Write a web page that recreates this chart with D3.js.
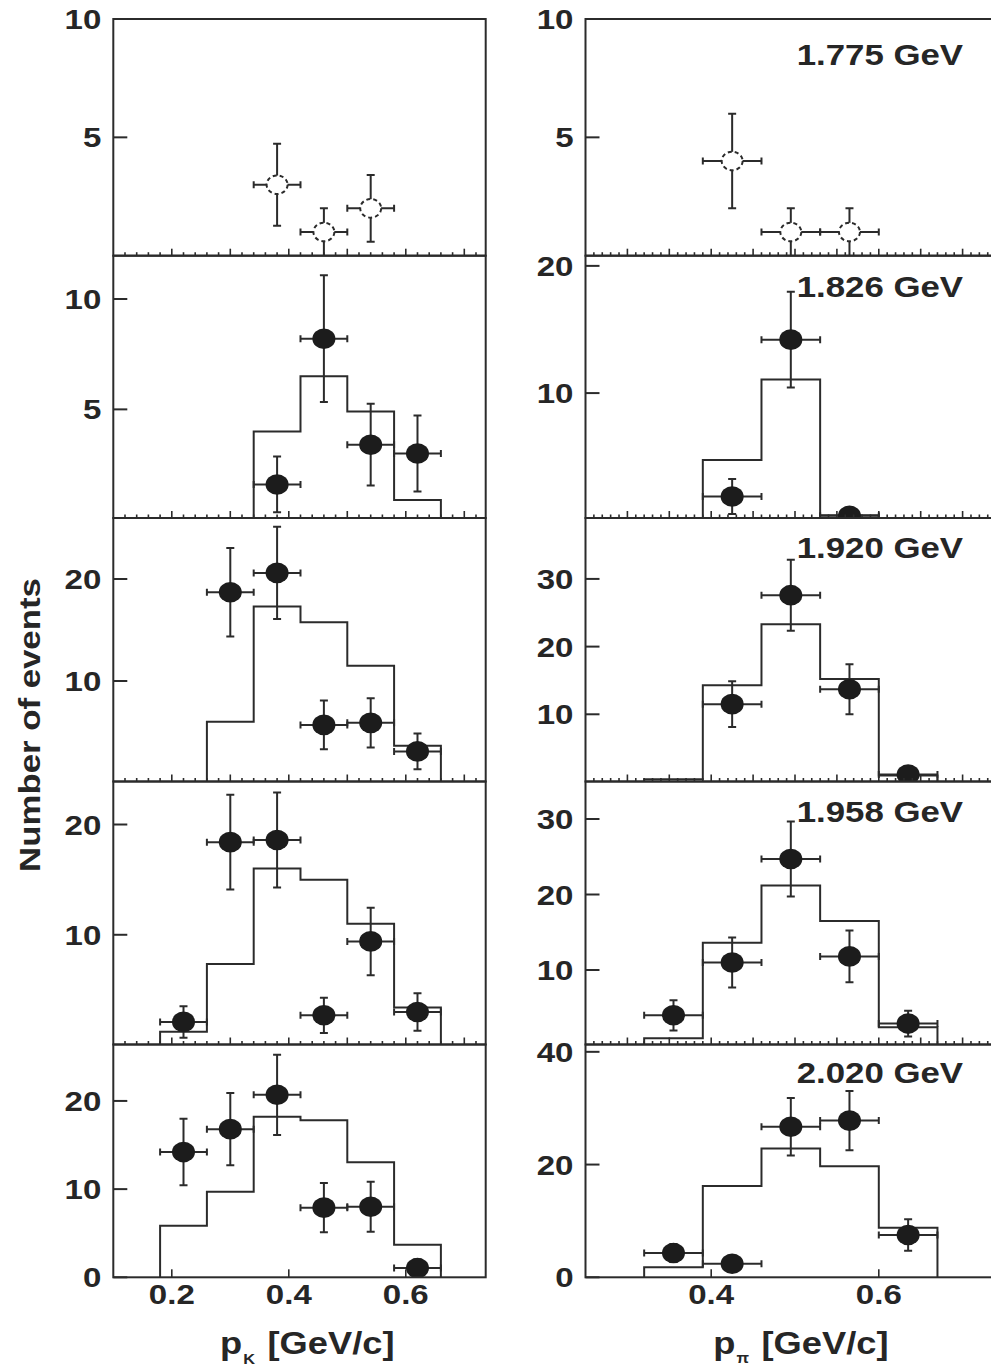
<!DOCTYPE html>
<html>
<head>
<meta charset="utf-8">
<script src="https://cdn.jsdelivr.net/npm/d3@7"></script>
<style>
  body { margin: 0; background: #fff; }
  svg { display: block; }
  text { font-family: "Liberation Sans", Arial, sans-serif; font-weight: bold; fill: #262626; }
</style>
</head>
<body>
<svg id="chart" width="991" height="1367"></svg>
<script>
// ---------------- data ----------------
const energies = ["1.775 GeV", "1.826 GeV", "1.920 GeV", "1.958 GeV", "2.020 GeV"];

// kaon momentum bins [GeV/c]
const kaonBinEdges = [0.18, 0.26, 0.34, 0.42, 0.50, 0.58, 0.66];
// pion momentum bins [GeV/c]
const pionBinEdges = [0.32, 0.39, 0.46, 0.53, 0.60, 0.67];

// measured yields per energy (null = no entry)
const kaonCounts = [
  [null, null, 3.0, 1.0, 2.0, null],
  [null, null, 1.6, 8.2, 3.4, 3.0],
  [null, 18.7, 20.6, 5.7, 5.9, 3.1],
  [2.1, 18.4, 18.6, 2.7, 9.4, 3.0],
  [14.2, 16.8, 20.7, 7.9, 8.0, 1.05]
];
const kaonErrors = [
  [null, null, 1.73, 1.0, 1.41, null],
  [null, null, 1.26, 2.87, 1.85, 1.72],
  [null, 4.33, 4.53, 2.39, 2.42, 1.75],
  [1.43, 4.29, 4.31, 1.6, 3.06, 1.7],
  [3.77, 4.09, 4.55, 2.8, 2.83, 1.0]
];
// simulated spectra (null = not shown)
const kaonMC = [
  null,
  [0, 0, 4.0, 6.5, 4.9, 0.9],
  [0, 6.0, 17.3, 15.75, 11.5, 3.65],
  [1.2, 7.35, 16.0, 15.0, 11.0, 3.4],
  [5.85, 9.7, 18.2, 17.8, 13.05, 3.7]
];

const pionCounts = [
  [null, 4.0, 1.0, 1.0, null],
  [null, 1.87, 14.2, 0.35, null],
  [null, 11.5, 27.6, 13.7, 1.1],
  [4.0, 11.0, 24.7, 11.8, 2.9],
  [4.3, 2.4, 26.7, 27.8, 7.5]
];
const pionErrors = [
  [null, 2.0, 1.0, 1.0, null],
  [null, 1.37, 3.76, 0.6, null],
  [null, 3.39, 5.25, 3.7, 1.05],
  [2.0, 3.31, 4.97, 3.43, 1.7],
  [1.6, 1.4, 5.1, 5.27, 2.8]
];
const pionMC = [
  null,
  [0, 4.73, 11.06, 0.4, 0],
  [0.4, 14.3, 23.3, 15.2, 0.95],
  [0.95, 13.6, 21.2, 16.5, 2.4],
  [1.8, 16.2, 22.85, 19.7, 8.8]
];

// axis tick labels
const kaonYTicks = [[5, 10], [5, 10], [10, 20], [10, 20], [0, 10, 20]];
const pionYTicks = [[5, 10], [10, 20], [10, 20, 30], [10, 20, 30], [0, 20, 40]];
const kaonXTicks = [0.2, 0.4, 0.6];
const pionXTicks = [0.4, 0.6];

// ---------------- layout ----------------
const rowTop = [19, 255.7, 518, 781.5, 1044.5];
const rowBottom = [255.7, 518, 781.5, 1044.5, 1277.3];
const kaonYDomains = [[0, 10], [0.08, 11.96], [0.15, 25.98], [0.05, 23.9], [0, 26.4]];
const pionYDomains = [[0, 10], [0.18, 20.8], [0.07, 39.0], [0.13, 34.97], [0, 41.3]];
const energyBaseline = [65, 297, 558, 822, 1083];
const stretch = 1.18;   // horizontal widening applied to all lettering

const columns = [
  { key: "kaon", x0: 113.3, x1: 485.7, domain: [0.1, 0.7366],
    edges: kaonBinEdges, counts: kaonCounts, errors: kaonErrors, mc: kaonMC,
    yDomains: kaonYDomains, yTicks: kaonYTicks, xTicks: kaonXTicks,
    minorStep: 0.02, minorFrom: 5, minorTo: 36, majorEvery: 5 },
  { key: "pion", x0: 585.5, x1: 1004.5, domain: [0.25, 0.75],
    edges: pionBinEdges, counts: pionCounts, errors: pionErrors, mc: pionMC,
    yDomains: pionYDomains, yTicks: pionYTicks, xTicks: pionXTicks,
    minorStep: 0.01, minorFrom: 26, minorTo: 99, majorEvery: 5 }
];

const ink = "#2b2b2b";
const svg = d3.select("#chart");
const defs = svg.append("defs");

function label(parent, x, y, size, txt, anchor, sx) {
  return parent.append("text")
    .attr("transform", `translate(${x},${y}) scale(${sx || stretch},1)`)
    .attr("text-anchor", anchor || "start")
    .attr("font-size", size).text(txt);
}

columns.forEach((col, ci) => {
  const x = d3.scaleLinear().domain(col.domain).range([col.x0, col.x1]);
  const centers = d3.range(col.edges.length - 1).map(i => (col.edges[i] + col.edges[i + 1]) / 2);

  for (let r = 0; r < 5; r++) {
    const y = d3.scaleLinear().domain(col.yDomains[r]).range([rowBottom[r], rowTop[r]]);
    const g = svg.append("g").attr("class", `panel ${col.key}-${r}`);
    const clipId = `clip-${col.key}-${r}`;
    defs.append("clipPath").attr("id", clipId).append("rect")
      .attr("x", col.x0).attr("y", rowTop[r])
      .attr("width", col.x1 - col.x0).attr("height", rowBottom[r] - rowTop[r]);
    const marks = g.append("g").attr("clip-path", `url(#${clipId})`);

    // simulated spectrum as a step outline
    const mc = col.mc[r];
    if (mc) {
      const y0 = col.yDomains[r][0];
      const pts = [[col.edges[0], y0]];
      mc.forEach((h, i) => { pts.push([col.edges[i], h]); pts.push([col.edges[i + 1], h]); });
      pts.push([col.edges[col.edges.length - 1], y0]);
      marks.append("path")
        .attr("d", d3.line().x(d => x(d[0])).y(d => y(d[1]))(pts))
        .attr("fill", "none").attr("stroke", ink).attr("stroke-width", 2);
    }

    // data points with error bars
    const pts = centers.map((c, i) => ({ c, hw: (col.edges[i + 1] - col.edges[i]) / 2,
      v: col.counts[r][i], e: col.errors[r][i] })).filter(d => d.v !== null);
    const eb = marks.append("g").attr("stroke", ink).attr("stroke-width", 2).attr("fill", "none");
    pts.forEach(d => {
      const cx = x(d.c), cy = y(d.v);
      const xl = x(d.c - d.hw), xr = x(d.c + d.hw);
      const yt = y(d.v + d.e), yb = y(Math.max(d.v - d.e, col.yDomains[r][0] - 1));
      eb.append("line").attr("x1", xl).attr("x2", xr).attr("y1", cy).attr("y2", cy);
      eb.append("line").attr("x1", xl).attr("x2", xl).attr("y1", cy - 3.5).attr("y2", cy + 3.5);
      eb.append("line").attr("x1", xr).attr("x2", xr).attr("y1", cy - 3.5).attr("y2", cy + 3.5);
      eb.append("line").attr("x1", cx).attr("x2", cx).attr("y1", yt).attr("y2", yb);
      eb.append("line").attr("x1", cx - 4).attr("x2", cx + 4).attr("y1", yt).attr("y2", yt);
      if (d.v - d.e > col.yDomains[r][0])
        eb.append("line").attr("x1", cx - 4).attr("x2", cx + 4).attr("y1", yb).attr("y2", yb);
    });
    const open = r === 0;
    marks.append("g").selectAll("ellipse").data(pts).join("ellipse")
      .attr("cx", d => x(d.c)).attr("cy", d => y(d.v))
      .attr("rx", open ? 10.5 : 11.5).attr("ry", open ? 9.3 : 10.3)
      .attr("fill", open ? "#fff" : "#1c1c1c")
      .attr("stroke", open ? ink : "none")
      .attr("stroke-width", open ? 2 : 0)
      .attr("stroke-dasharray", open ? "4 3" : null);

    // frame
    g.append("rect")
      .attr("x", col.x0).attr("y", rowTop[r])
      .attr("width", col.x1 - col.x0).attr("height", rowBottom[r] - rowTop[r])
      .attr("fill", "none").attr("stroke", ink).attr("stroke-width", 2);

    // y ticks and labels
    const yAxis = g.append("g");
    col.yTicks[r].forEach(t => {
      yAxis.append("line").attr("x1", col.x0).attr("x2", col.x0 + 14)
        .attr("y1", y(t)).attr("y2", y(t)).attr("stroke", ink).attr("stroke-width", 2);
      label(yAxis, col.x0 - 12, y(t) + 10, 28, t, "end");
    });

    // x ticks along the lower edge
    const xAxis = g.append("g").attr("stroke", ink).attr("stroke-width", 1.6);
    const yb = rowBottom[r];
    if (r < 4) {
      for (let i = col.minorFrom; i <= col.minorTo; i++) {
        const v = i * col.minorStep;
        const len = i % col.majorEvery === 0 ? 7 : 3.5;
        if (x(v) <= col.x0 + 1 || x(v) >= col.x1 - 1) continue;
        xAxis.append("line").attr("x1", x(v)).attr("x2", x(v))
          .attr("y1", yb).attr("y2", yb - len);
      }
    } else {
      col.xTicks.forEach(t => {
        xAxis.append("line").attr("x1", x(t)).attr("x2", x(t))
          .attr("y1", yb).attr("y2", yb - 8);
        label(g, x(t), 1303.5, 28, t.toFixed(1), "middle");
      });
    }

    // energy label
    if (ci === 1) label(g, 796.7, energyBaseline[r], 29, energies[r], "start", 1.2);
  }
});

// axis titles
const kt = svg.append("text").attr("transform", "translate(220,1354) scale(1.17,1)").attr("font-size", 31);
kt.append("tspan").text("p");
kt.append("tspan").attr("font-size", 14).attr("dx", 1).attr("dy", 10).text("K");
kt.append("tspan").attr("dx", 2).attr("dy", -10).text(" [GeV/c]");

const pt = svg.append("text").attr("transform", "translate(713.3,1354) scale(1.17,1)").attr("font-size", 31);
pt.append("tspan").text("p");
pt.append("tspan").attr("font-size", 14).attr("dx", 1).attr("dy", 9).text("π");
pt.append("tspan").attr("dx", 2).attr("dy", -9).text(" [GeV/c]");

svg.append("text")
  .attr("transform", "translate(40,725) rotate(-90) scale(1.16,1)")
  .attr("text-anchor", "middle").attr("font-size", 30)
  .text("Number of events");
</script>
</body>
</html>
